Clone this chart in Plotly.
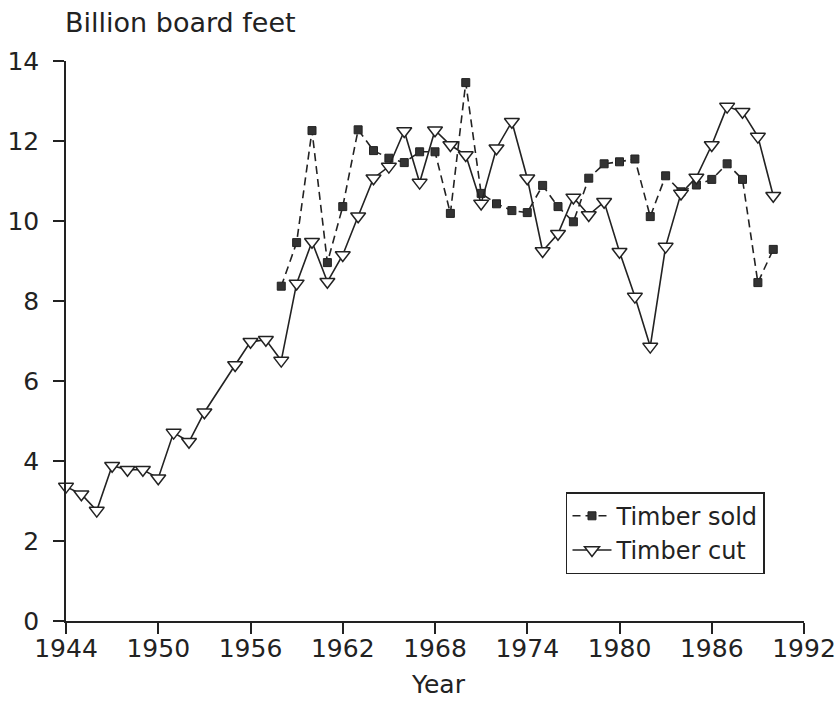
import plotly.graph_objects as go

# ---- data ----
cut_years = list(range(1944, 1991))
timber_cut = [3.36, 3.17, 2.76, 3.88, 3.78, 3.78, 3.57, 4.71, 4.48, 5.22,
              None, 6.40, 6.98, 7.03, 6.51, 8.44, 9.48, 8.48, 9.15, 10.12,
              11.07, 11.36, 12.25, 10.96, 12.27, 11.90, 11.65, 10.44, 11.82, 12.48,
              11.07, 9.25, 9.68, 10.59, 10.15, 10.48, 9.23, 8.11, 6.86, 9.36,
              10.69, 11.09, 11.90, 12.86, 12.73, 12.11, 10.63]

sold_years = list(range(1958, 1991))
timber_sold = [8.37, 9.46, 12.26, 8.96, 10.36, 12.28, 11.76, 11.57, 11.46, 11.73,
               11.73, 10.19, 13.46, 10.69, 10.43, 10.26, 10.21, 10.89, 10.36, 9.98,
               11.07, 11.43, 11.48, 11.55, 10.11, 11.13, 10.73, 10.90, 11.04, 11.43,
               11.04, 8.46, 9.29]

x_ticks = [1944, 1950, 1956, 1962, 1968, 1974, 1980, 1986, 1992]
y_ticks = [0, 2, 4, 6, 8, 10, 12, 14]

INK = "#222222"
FONT = "DejaVu Sans"

fig = go.Figure()

fig.add_trace(go.Scatter(
    x=sold_years, y=timber_sold, name="Timber sold",
    mode="lines+markers",
    line=dict(color=INK, width=1.6, dash="8px,5px"),
    marker=dict(symbol="square", size=8, color="#333333",
                line=dict(color=INK, width=1)),
    cliponaxis=False,
))

fig.add_trace(go.Scatter(
    x=cut_years, y=timber_cut, name="Timber cut",
    mode="lines+markers", connectgaps=True,
    line=dict(color=INK, width=1.6),
    marker=dict(symbol="triangle-down", size=13, color="white",
                line=dict(color=INK, width=1.5)),
    cliponaxis=False,
))

fig.update_layout(
    width=839, height=703,
    margin=dict(l=66, r=35, t=61, b=82, pad=0, autoexpand=False),
    paper_bgcolor="white", plot_bgcolor="white",
    font=dict(family=FONT, color=INK, size=25),
    showlegend=True,
    legend=dict(
        x=0.6775, y=0.23, xanchor="left", yanchor="top",
        bgcolor="white", bordercolor=INK, borderwidth=1.5,
        font=dict(family=FONT, size=24, color=INK),
        itemwidth=39,
    ),
    xaxis=dict(
        range=[1944, 1992], tickvals=x_ticks, ticktext=[str(v) for v in x_ticks],
        automargin=False,
        showgrid=False, zeroline=False, showline=True, linecolor=INK, linewidth=1.5,
        ticks="outside", ticklen=11, tickwidth=1.5, tickcolor=INK,
        tickfont=dict(family=FONT, size=25, color=INK),
        ticklabelstandoff=-7,
    ),
    yaxis=dict(
        range=[0, 14], tickvals=y_ticks, ticktext=[str(v) for v in y_ticks],
        automargin=False,
        showgrid=False, zeroline=False, showline=True, linecolor=INK, linewidth=1.5,
        ticks="outside", ticklen=11, tickwidth=1.5, tickcolor=INK,
        tickfont=dict(family=FONT, size=25, color=INK),
        ticklabelstandoff=9,
    ),
    annotations=[
        dict(text="Billion board feet", xref="paper", yref="paper",
             x=-0.004, y=1.068, xanchor="left", yanchor="middle", showarrow=False,
             font=dict(family=FONT, size=27, color=INK)),
        dict(text="Year", xref="paper", yref="paper",
             x=0.505, y=-0.143, xanchor="center", yanchor="bottom", showarrow=False,
             font=dict(family=FONT, size=25, color=INK)),
    ],
)

# remove the browser's default 8px body margin so the figure fills the window
fig.write_html("out.html", config={"displayModeBar": False},
               post_script="document.body.style.margin='0';")
